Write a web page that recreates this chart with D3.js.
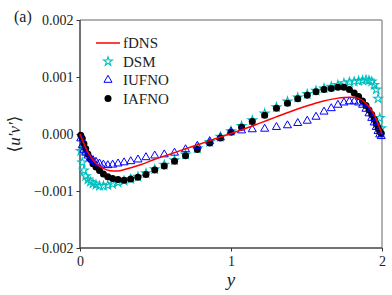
<!DOCTYPE html>
<html>
<head>
<meta charset="utf-8">
<script src="https://cdn.jsdelivr.net/npm/d3@7"></script>
<style>
  body { margin: 0; background: #fff; }
  svg text { font-family: "Liberation Serif", "DejaVu Serif", serif; fill: #222; }
</style>
</head>
<body>
<svg id="chart" width="392" height="295"></svg>
<script>
// fDNS profile (solid line), values in units of 1e-3
var fdnsY = [0, 0.02, 0.05, 0.1, 0.15, 0.2, 0.25, 0.3, 0.4, 0.5, 0.6, 0.7, 0.8, 0.9, 1.0,
             1.1, 1.2, 1.3, 1.4, 1.5, 1.6, 1.7, 1.75, 1.8, 1.85, 1.9, 1.95, 1.98, 2.0];
var fdnsV = [0, -0.13, -0.31, -0.5, -0.6, -0.645, -0.65, -0.62, -0.54, -0.44, -0.35, -0.26, -0.17, -0.08, 0.01,
             0.10, 0.20, 0.30, 0.40, 0.49, 0.57, 0.625, 0.64, 0.645, 0.62, 0.52, 0.33, 0.14, 0];

// wall-normal grid of the LES models (markers)
var gridY = [0.005, 0.015, 0.026, 0.038, 0.052, 0.068, 0.086, 0.106, 0.129, 0.155,
             0.184, 0.216, 0.252, 0.292, 0.336, 0.384, 0.437, 0.495, 0.558, 0.626,
             0.699, 0.777, 0.859, 0.93, 1.0, 1.07, 1.141, 1.223, 1.301, 1.374,
             1.442, 1.505, 1.563, 1.616, 1.664, 1.708, 1.748, 1.784, 1.816, 1.845,
             1.871, 1.894, 1.914, 1.932, 1.948, 1.962, 1.974, 1.985, 1.995];

var dsmV = [-0.30, -0.50, -0.64, -0.74, -0.80, -0.84, -0.87, -0.89, -0.91, -0.91,
            -0.90, -0.88, -0.85, -0.82, -0.79, -0.75, -0.69, -0.62, -0.54, -0.46,
            -0.36, -0.25, -0.14, -0.05, 0.05, 0.14, 0.24, 0.36, 0.47, 0.57,
            0.64, 0.70, 0.76, 0.80, 0.83, 0.86, 0.89, 0.91, 0.92, 0.93,
            0.94, 0.95, 0.94, 0.92, 0.86, 0.78, 0.62, 0.28, 0.10];

var iufnoV = [-0.08, -0.20, -0.28, -0.33, -0.38, -0.42, -0.46, -0.49, -0.52, -0.54,
              -0.55, -0.54, -0.52, -0.50, -0.48, -0.45, -0.41, -0.38, -0.36, -0.33,
              -0.27, -0.21, -0.13, -0.06, 0.04, 0.06, 0.08, 0.09, 0.12, 0.15,
              0.19, 0.23, 0.30, 0.39, 0.45, 0.51, 0.55, 0.57, 0.57, 0.55,
              0.51, 0.44, 0.36, 0.28, 0.20, 0.12, 0.05, -0.01, -0.04];

var iafnoV = [-0.02, -0.08, -0.17, -0.26, -0.35, -0.44, -0.52, -0.58, -0.64, -0.70,
              -0.75, -0.78, -0.80, -0.81, -0.79, -0.76, -0.71, -0.63, -0.56, -0.48,
              -0.38, -0.27, -0.16, -0.07, 0.03, 0.12, 0.22, 0.33, 0.45, 0.54,
              0.62, 0.68, 0.74, 0.78, 0.80, 0.82, 0.82, 0.78, 0.72, 0.66,
              0.58, 0.50, 0.42, 0.34, 0.26, 0.18, 0.11, 0.05, 0.01];

var xTicks = [0, 1, 2];
var yTicks = [-0.002, -0.001, 0, 0.001, 0.002];
var legendNames = ["fDNS", "DSM", "IUFNO", "IAFNO"];

var serif = "'Liberation Serif', 'DejaVu Serif', serif";
var svg = d3.select("#chart");
var pL = 80, pR = 382, pT = 20, pB = 248;

var x = d3.scaleLinear().domain([0, 2]).range([pL, pR]);
var y = d3.scaleLinear().domain([-0.002, 0.002]).range([pB, pT]);

function pts(ys, vs) {
  return ys.map(function(d, i) { return {y: d, v: vs[i] * 1e-3}; });
}

// axes
var xAxis = svg.append("g").attr("transform", "translate(0," + pB + ")")
  .call(d3.axisBottom(x).tickValues(xTicks).tickFormat(d3.format("d")).tickSize(3.5).tickPadding(3));
var yAxis = svg.append("g").attr("transform", "translate(" + pL + ",0)")
  .call(d3.axisLeft(y).tickValues(yTicks).tickSize(3.5).tickPadding(3)
    .tickFormat(function(d) { return d3.format(".3f")(d).replace("-", "\u2212"); }));
[xAxis, yAxis].forEach(function(a) {
  a.attr("font-size", 14).attr("font-family", serif);
  a.select(".domain").remove();
  a.selectAll("line").attr("stroke", "#333").attr("stroke-width", 1);
  a.selectAll("text").attr("font-size", 14).attr("font-family", serif)
    .style("font-family", serif).attr("fill", "#222");
});
xAxis.selectAll("text").attr("dy", "0.85em");

// frame
svg.append("line").attr("x1", pL).attr("x2", pR).attr("y1", pT).attr("y2", pT)
  .attr("stroke", "#999").attr("stroke-width", 1.5);
svg.append("line").attr("x1", pR).attr("x2", pR).attr("y1", pT).attr("y2", pB)
  .attr("stroke", "#999").attr("stroke-width", 1.5);
svg.append("line").attr("x1", pL).attr("x2", pR).attr("y1", pB).attr("y2", pB)
  .attr("stroke", "#444").attr("stroke-width", 1.5);
svg.append("line").attr("x1", pL).attr("x2", pL).attr("y1", pT).attr("y2", pB)
  .attr("stroke", "#444").attr("stroke-width", 1.5);

var plot = svg.append("g");

var star = d3.symbol().type(d3.symbolStar).size(24);
var tri = d3.symbol().type(d3.symbolTriangle).size(28);

// DSM stars
plot.selectAll(".dsm").data(pts(gridY, dsmV)).enter().append("path")
  .attr("class", "dsm")
  .attr("transform", function(d) { return "translate(" + x(d.y) + "," + y(d.v) + ")"; })
  .attr("d", star).attr("fill", "none").attr("stroke", "#00bfbf").attr("stroke-width", 1.1);

// IAFNO dots
plot.selectAll(".iafno").data(pts(gridY, iafnoV)).enter().append("circle")
  .attr("class", "iafno")
  .attr("cx", function(d) { return x(d.y); })
  .attr("cy", function(d) { return y(d.v); })
  .attr("r", 3.5).attr("fill", "#000");

// IUFNO triangles
plot.selectAll(".iufno").data(pts(gridY, iufnoV)).enter().append("path")
  .attr("class", "iufno")
  .attr("transform", function(d) { return "translate(" + x(d.y) + "," + y(d.v) + ")"; })
  .attr("d", tri).attr("fill", "none").attr("stroke", "#0000ff").attr("stroke-width", 1);

// fDNS line
var line = d3.line().curve(d3.curveMonotoneX)
  .x(function(d) { return x(d.y); })
  .y(function(d) { return y(d.v); });
plot.append("path").datum(pts(fdnsY, fdnsV))
  .attr("d", line).attr("fill", "none").attr("stroke", "#ff0000").attr("stroke-width", 1.5);

// legend
var lg = svg.append("g").attr("transform", "translate(96,43)");
lg.append("line").attr("x1", 0).attr("x2", 24).attr("y1", 0).attr("y2", 0)
  .attr("stroke", "#ff0000").attr("stroke-width", 1.5);
lg.append("path").attr("transform", "translate(12,18.5)").attr("d", star)
  .attr("fill", "none").attr("stroke", "#00bfbf").attr("stroke-width", 1.1);
lg.append("path").attr("transform", "translate(12,37)").attr("d", tri)
  .attr("fill", "none").attr("stroke", "#0000ff").attr("stroke-width", 1);
lg.append("circle").attr("cx", 12).attr("cy", 55.5).attr("r", 3.5).attr("fill", "#000");
lg.selectAll(".lt").data(legendNames).enter().append("text")
  .attr("x", 27).attr("y", function(d, i) { return i * 18.5 + 5; })
  .attr("font-size", 15).text(function(d) { return d; });

// axis labels
svg.append("text").attr("x", x(1)).attr("y", 286).attr("text-anchor", "middle")
  .attr("font-size", 19).attr("font-style", "italic").text("y");
svg.append("text").attr("transform", "translate(20," + ((pT + pB) / 2) + ") rotate(-90)")
  .attr("text-anchor", "middle").attr("font-size", 17)
  .html("\u27E8<tspan font-style='italic'>u\u2032v\u2032</tspan>\u27E9");
svg.append("text").attr("x", 14).attr("y", 22).attr("font-size", 16).text("(a)");
</script>
</body>
</html>
